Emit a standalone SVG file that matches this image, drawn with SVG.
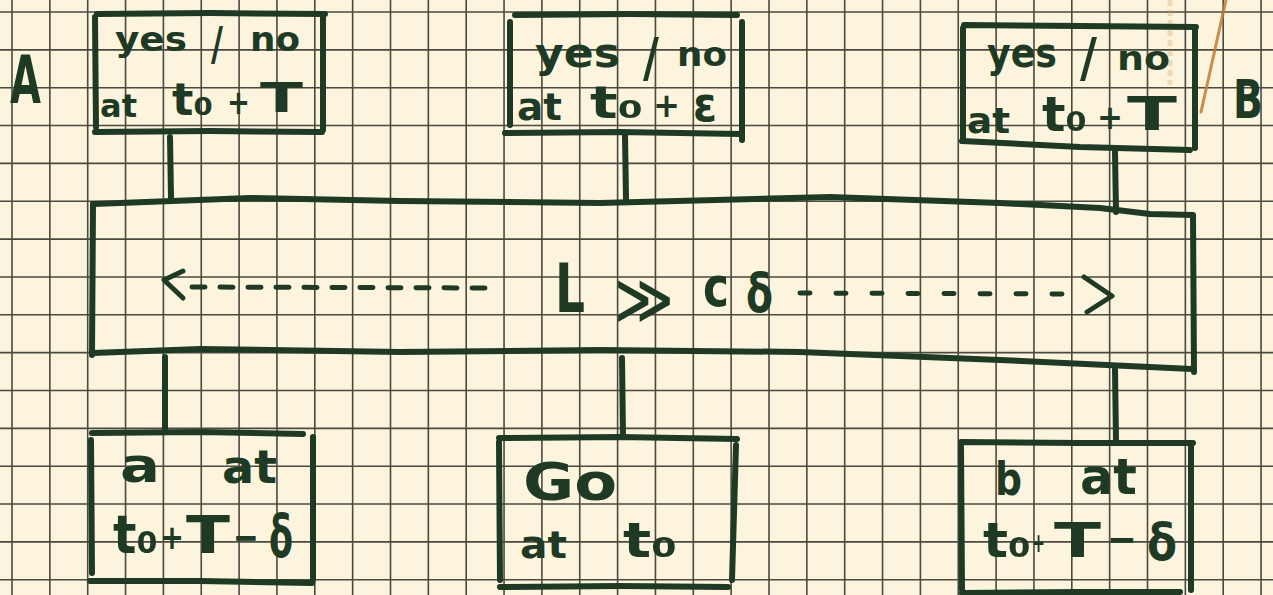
<svg xmlns="http://www.w3.org/2000/svg" width="1273" height="595" viewBox="0 0 1273 595">
<style>
.ink{fill:none;stroke:#1e3a25;stroke-width:6;stroke-linecap:round;stroke-linejoin:round}
.thin{fill:none;stroke:#1e3a25;stroke-width:5;stroke-linecap:round;stroke-linejoin:round}
.t{font-family:"DejaVu Sans","Liberation Sans",sans-serif;font-weight:bold;fill:#1e3a25}
.grid{fill:none;stroke:#2b2b27;stroke-width:1.6;opacity:0.85}
</style>
<rect width="1273" height="595" fill="#fcf4dd"/>
<path class="grid" d="M12 0V595M49.85 0V595M87.7 0V595M125.55 0V595M163.4 0V595M201.25 0V595M239.1 0V595M276.95 0V595M314.8 0V595M352.65 0V595M390.5 0V595M428.35 0V595M466.2 0V595M504.05 0V595M541.9 0V595M579.75 0V595M617.6 0V595M655.45 0V595M693.3 0V595M731.15 0V595M769 0V595M806.85 0V595M844.7 0V595M882.55 0V595M920.4 0V595M958.25 0V595M996.1 0V595M1033.95 0V595M1071.8 0V595M1109.65 0V595M1147.5 0V595M1185.35 0V595M1223.2 0V595M1261.05 0V595M0 12H1273M0 49.85H1273M0 87.7H1273M0 125.55H1273M0 163.4H1273M0 201.25H1273M0 239.1H1273M0 276.95H1273M0 314.8H1273M0 352.65H1273M0 390.5H1273M0 428.35H1273M0 466.2H1273M0 504.05H1273M0 541.9H1273M0 579.75H1273"/>
<g id="stains">
<path d="M1170 0V85" stroke="#d49a55" stroke-width="5" opacity="0.3" fill="none" stroke-dasharray="6 4"/>
<path d="M1226 0L1201 112" stroke="#c47a30" stroke-width="3" opacity="0.85" fill="none" stroke-linecap="round"/>
</g>
<g id="label-A"><text class="t" x="10" y="103" font-size="66" textLength="31" lengthAdjust="spacingAndGlyphs" font-weight="normal">A</text></g>
<g id="label-B"><text class="t" x="1233" y="118" font-size="54" textLength="30" lengthAdjust="spacingAndGlyphs">B</text></g>

<g id="connectors">
<path class="ink" d="M170 137L171 198"/>
<path class="ink" d="M625 135L626 199"/>
<path class="ink" d="M1115 152L1116 212"/>
<path class="ink" d="M165 357L165 431"/>
<path class="ink" d="M622 358L623 437"/>
<path class="ink" d="M1115 369L1116 442"/>
</g>

<g id="box-top-left">
<path class="ink" d="M97 14L210 13L325 14M95 17L96 127M95 132L210 131L322 132M323 15L323 130"/>
<text class="t" x="115" y="51" font-size="34" textLength="72" lengthAdjust="spacingAndGlyphs">yes</text>
<text class="t" x="211" y="60" font-size="46" textLength="12" lengthAdjust="spacingAndGlyphs">/</text>
<text class="t" x="250" y="51" font-size="34" textLength="50" lengthAdjust="spacingAndGlyphs">no</text>
<text class="t" x="100" y="117" font-size="32" textLength="37" lengthAdjust="spacingAndGlyphs">at</text>
<text class="t" x="172" y="115" font-size="44" textLength="41" lengthAdjust="spacingAndGlyphs">t₀</text>
<text class="t" x="227" y="114" font-size="34" textLength="23" lengthAdjust="spacingAndGlyphs">+</text>
<text class="t" x="260" y="112" font-size="40" textLength="43" lengthAdjust="spacingAndGlyphs">T</text>
</g>

<g id="box-top-middle">
<path class="ink" d="M515 15L630 14L737 15M510 22L510 125M505 133L620 132L740 134M742 22L742 140"/>
<text class="t" x="535" y="67" font-size="40" textLength="85" lengthAdjust="spacingAndGlyphs">yes</text>
<text class="t" x="643" y="76" font-size="54" textLength="16" lengthAdjust="spacingAndGlyphs">/</text>
<text class="t" x="677" y="66" font-size="34" textLength="50" lengthAdjust="spacingAndGlyphs">no</text>
<text class="t" x="517" y="120" font-size="38" textLength="45" lengthAdjust="spacingAndGlyphs">at</text>
<text class="t" x="590" y="118" font-size="44" textLength="53" lengthAdjust="spacingAndGlyphs">t₀</text>
<text class="t" x="653" y="117" font-size="34" textLength="27" lengthAdjust="spacingAndGlyphs">+</text>
<text class="t" x="693" y="121" font-size="48" textLength="24" lengthAdjust="spacingAndGlyphs">ε</text>
</g>

<g id="box-top-right">
<path class="ink" d="M964 25L1080 26L1196 27M963 28L963 140M962 141L1080 147L1190 150M1195 30L1195 148"/>
<text class="t" x="987" y="67" font-size="40" textLength="70" lengthAdjust="spacingAndGlyphs">yes</text>
<text class="t" x="1080" y="76" font-size="54" textLength="17" lengthAdjust="spacingAndGlyphs">/</text>
<text class="t" x="1117" y="70" font-size="34" textLength="53" lengthAdjust="spacingAndGlyphs">no</text>
<text class="t" x="967" y="133" font-size="36" textLength="43" lengthAdjust="spacingAndGlyphs">at</text>
<text class="t" x="1042" y="131" font-size="48" textLength="45" lengthAdjust="spacingAndGlyphs">t₀</text>
<text class="t" x="1097" y="129" font-size="34" textLength="26" lengthAdjust="spacingAndGlyphs">+</text>
<text class="t" x="1127" y="130" font-size="46" textLength="50" lengthAdjust="spacingAndGlyphs">T</text>
</g>

<g id="bar">
<path class="ink" d="M93 204L120 203L250 198L400 201L600 203L830 197L1000 203L1100 208L1150 214L1193 215L1194 372"/>
<path class="ink" d="M93 204L92 355M93 353L200 349L400 352L600 350L800 352L1000 360L1192 369"/>
<path class="thin" d="M183 271L164 280L183 298"/>
<path class="thin" d="M192 287L491 288" stroke-dasharray="13 15"/>
<path class="thin" d="M800 293L1075 294" stroke-dasharray="10 26"/>
<path class="thin" d="M1084 277L1112 296L1087 312"/>
<text class="t" x="555" y="312" font-size="68" textLength="30" lengthAdjust="spacingAndGlyphs">L</text>
<text class="t" x="614" y="320" font-size="60" textLength="60" lengthAdjust="spacingAndGlyphs">≫</text>
<text class="t" x="703" y="306" font-size="56" textLength="26" lengthAdjust="spacingAndGlyphs">c</text>
<text class="t" x="746" y="312" font-size="54" textLength="27" lengthAdjust="spacingAndGlyphs">δ</text>
</g>

<g id="box-bottom-left">
<path class="ink" d="M92 433L200 432L303 434M91 440L92 573M90 581L200 581L312 583M313 437L313 580"/>
<text class="t" x="120" y="482" font-size="48" textLength="40" lengthAdjust="spacingAndGlyphs">a</text>
<text class="t" x="222" y="483" font-size="46" textLength="55" lengthAdjust="spacingAndGlyphs">at</text>
<text class="t" x="113" y="553" font-size="54" textLength="45" lengthAdjust="spacingAndGlyphs">t₀</text>
<text class="t" x="160" y="549" font-size="34" textLength="24" lengthAdjust="spacingAndGlyphs">+</text>
<text class="t" x="186" y="553" font-size="52" textLength="44" lengthAdjust="spacingAndGlyphs">T</text>
<text class="t" x="233" y="551" font-size="40" textLength="26" lengthAdjust="spacingAndGlyphs">−</text>
<text class="t" x="269" y="557" font-size="58" textLength="24" lengthAdjust="spacingAndGlyphs">δ</text>
</g>

<g id="box-bottom-middle">
<path class="ink" d="M499 438L620 437L737 439M499 442L500 580M500 587L620 586L728 587M736 445L732 580"/>
<text class="t" x="523" y="500" font-size="52" textLength="94" lengthAdjust="spacingAndGlyphs">Go</text>
<text class="t" x="520" y="558" font-size="38" textLength="47" lengthAdjust="spacingAndGlyphs">at</text>
<text class="t" x="623" y="557" font-size="48" textLength="54" lengthAdjust="spacingAndGlyphs">t₀</text>
</g>

<g id="box-bottom-right">
<path class="ink" d="M961 442L1080 443L1193 443M961 447L962 590M962 593L1080 592L1180 592M1191 446L1191 590"/>
<text class="t" x="995" y="495" font-size="46" textLength="27" lengthAdjust="spacingAndGlyphs">b</text>
<text class="t" x="1080" y="494" font-size="50" textLength="57" lengthAdjust="spacingAndGlyphs">at</text>
<text class="t" x="983" y="557" font-size="48" textLength="48" lengthAdjust="spacingAndGlyphs">t₀</text>
<text class="t" x="1032" y="552" font-size="26" textLength="13" lengthAdjust="spacingAndGlyphs">+</text>
<text class="t" x="1054" y="557" font-size="48" textLength="47" lengthAdjust="spacingAndGlyphs">T</text>
<text class="t" x="1107" y="553" font-size="40" textLength="30" lengthAdjust="spacingAndGlyphs">−</text>
<text class="t" x="1147" y="560" font-size="52" textLength="30" lengthAdjust="spacingAndGlyphs">δ</text>
</g>
</svg>
